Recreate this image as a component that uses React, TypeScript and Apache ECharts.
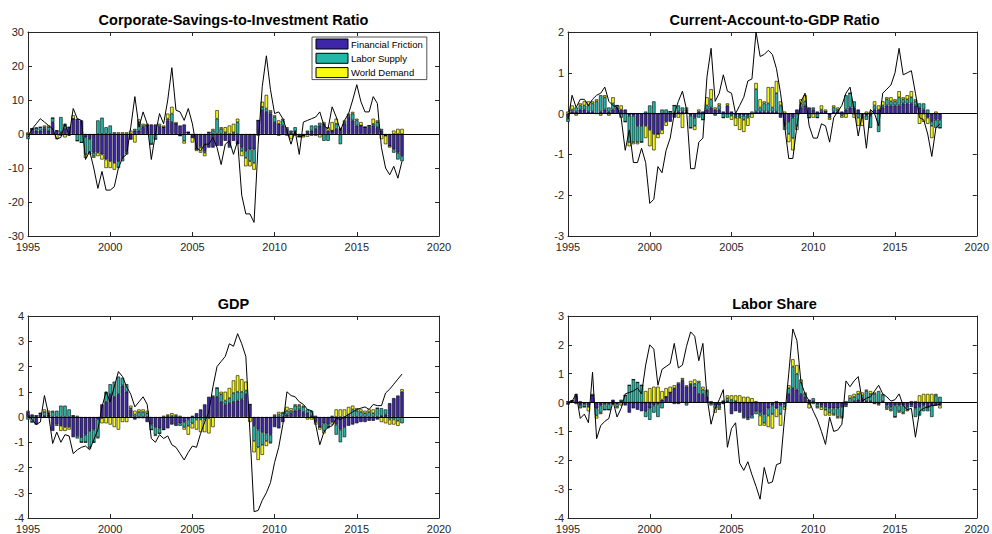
import React, { useEffect, useRef } from 'react';
import * as echarts from 'echarts';

// Quarterly grid 1995Q1 .. 2020Q1 (axis); data cover 1995Q1 .. 2017Q4
const axisQuarters: number[] = Array.from({ length: 101 }, (_, i) => 1995 + i * 0.25);

const seriesNames = ['Financial Friction', 'Labor Supply', 'World Demand'];
const colors = ['#3E26A8', '#22B8A7', '#F9FB0E'];
const yearTickEvery = 20; // every 5 years (20 quarters)

// ---------- Corporate-Savings-to-Investment Ratio ----------
const csLine = [-1, 1.5, 3, 4.5, 3.5, 2.5, 1.5, -1.5, -1, 3,
  -0.5, 7.5, 4.5, 4, -7.5, -5, -10, -16, -11, -16.5,
  -16.5, -15.5, -10, -7, -6, 2, 11, 2, 6.5, 3,
  -7.5, 0, 6, 3, 10, 19.5, 7, 6.5, 4, 7.5,
  3, -4, -5, -3, -3, -1, -4, -9, -3, -2,
  -6, -2, -18, -23.5, -23.5, -26, -3, 14, 23, 13,
  6, 6.5, 4.5, 1, -3, 1, -6, 3.5, 4, 4.5,
  5, 6.5, 2.5, 1.5, 8, 5, 1, 4, 6, 10,
  14.5, 9.5, 6.5, 6.5, 11, 9, -4, -10, -12, -9.5,
  -13, -8];
const csFF = [0, 1.5, 1, 1, 1.5, 1, 3.5, 1, 0.5, 1.5,
  2, 4.5, 4.5, 4, -1, -1.5, -5.5, -5.5, -6, -7.5,
  -8, -8.5, -8, -7, -5, -1.5, 1, 1, 2, 2.5,
  2.8, 2.8, 2, 2, 4, 3.5, 3, 2.5, 2.8, 0.5,
  -1, -4.5, -3.5, -5, -4, -4, -3.5, -3.5, -2, -3.5,
  -2, -3, -4, -5, -4.5, -4.5, 4, 7, 6.5, 6,
  3.5, 3, 2.5, 1.5, 0.5, 0.5, -0.8, -0.5, 0.5, 1,
  1.5, 2.5, 3, 1, 1, 1.5, 1.5, 3, 5, 4,
  2.5, 2.5, 2, 2, 2.5, 2, 1, -0.5, -3.5, -4.5,
  -5.5, -6.5];
const csLS = [-1.5, 0, 0.8, 1, 0.5, 1, 1.2, 0, 4.5, 1.5,
  0, 0, -2, -2.5, -5, -4, -1, 4, 4.8, 2,
  2.5, 0.5, -2, -1, -1, 0, 0.5, 2.5, 0.5, 0,
  -3, -1.5, 0.5, 0, 0.5, 2.5, 0, -0.5, -2, 0,
  0, 0, -0.5, -0.5, 0.5, 1, 4.5, 1.5, 0.5, -0.5,
  0.5, 3.5, -1, -2, -3.5, -4, 0, 1, 1, 0.5,
  1.5, -0.5, 1.5, 0.5, 0.5, 1.5, 0, 0, 0.5, 1.5,
  1, 0.8, -2, -2, 0, 1.5, -3, 0.5, 0.5, 2,
  1.5, 0, 0, 0.5, 0.5, 1.5, 0.5, 0, 0, -1,
  -2, -1.5];
const csWD = [0.5, 0, 0, 0, 0.5, 0.5, 0, -1.5, -0.5, -1,
  -0.5, 1, 0, 0, -1, -0.5, -0.5, -1, -1.5, -2.5,
  -2, -2, 0.5, 0.5, 0.5, 1, -2.5, 0.8, 0.5, 0.5,
  0, 0, 0.5, 0.5, 1.5, 2, 0.5, 0, -0.8, 0,
  -1.5, -0.5, -1.5, -1, 0, 0.5, 2.5, 0.5, 1.5, 2.5,
  2.5, 1, -1.5, -2.5, -1.5, -2, -0.5, 1.5, 4, 0.5,
  0.5, 1, 0.5, -0.5, -1.5, -0.5, 0, -0.5, -0.8, -0.5,
  -0.5, -1, 0.5, 1, 2.5, 1.5, 0.3, 0.5, 0.5, 0.5,
  0.5, 1, 0, 0, 1.5, 0.5, -1.5, -2.5, -0.5, 1,
  1.5, 1.5];

// ---------- Current-Account-to-GDP Ratio ----------
const caLine = [-0.15, 0.45, 0.15, 0.35, 0.35, 0.2, 0.35, 0.45, 0.5, 0.65,
  0.3, 0.2, 0.15, -0.1, -0.9, -0.4, -1.2, -1.2, -0.85, -1.2,
  -2.2, -2.1, -1.3, -1.45, -0.9, -0.6, 0.0, 0.3, 0.55, 0.1,
  -1.35, -1.35, -0.7, -0.6, 0.9, 1.6, 0.3, 0.5, 0.95, 0.55,
  0.5, 0.0, 0.2, 0.4, 0.8, 0.85, 2.0, 1.4, 1.45, 1.55,
  1.45, 1.1, 0.5, -0.3, -1.1, -1.1, -0.3, 0.3, 0.5, -0.3,
  -0.6, -0.6, -0.25, -0.3, -0.7, -0.1, 0.05, 0.2, 0.5, 0.65,
  0.1, -0.55, 0, -0.85, 0.1, 0, -0.3, 0.5, 0.6, 0.7,
  1.0, 1.6, 0.95, 1.0, 1.05, 0.5, -0.1, -0.15, -0.5, -1.05,
  -0.35, -0.25];
const caFF = [-0.1, 0.05, 0.05, 0.1, 0.1, 0.05, 0.05, 0, 0.05, 0.1,
  0.05, 0.1, 0.15, 0.1, 0.1, -0.05, -0.05, -0.3, -0.3, -0.3,
  -0.4, -0.5, -0.5, -0.4, -0.2, -0.2, -0.1, 0.05, 0.05, 0.05,
  -0.05, -0.1, 0.05, 0.05, 0.1, 0.15, 0.1, 0.1, 0.05, 0.2,
  0.05, -0.05, -0.05, -0.05, -0.05, 0, 0.05, 0.05, 0.05, 0.05,
  0.05, 0.05, -0.1, -0.3, -0.2, -0.1, 0.1, 0.15, 0.2, 0.15,
  0.1, 0.05, 0.05, 0.05, -0.05, 0.05, 0.05, 0.05, 0.1, 0.15,
  0.15, 0.1, 0, -0.05, -0.05, 0.1, 0.1, 0.15, 0.2, 0.2,
  0.2, 0.2, 0.25, 0.25, 0.25, 0.2, 0.15, 0.1, -0.1, -0.2,
  -0.15, -0.15];
const caLS = [-0.1, 0.05, 0.1, 0.1, 0.1, 0.15, 0.2, 0.3, 0.4, 0.3,
  0.1, 0.15, 0.05, -0.1, -0.2, -0.65, -0.65, -0.4, -0.4, 0.05,
  0.2, 0.3, 0, 0.1, 0.1, 0.05, 0.2, 0.15, 0.1, 0.05,
  -0.3, -0.2, -0.1, -0.15, 0.1, 0.2, -0.05, 0.1, -0.1, -0.1,
  -0.05, -0.05, -0.05, -0.1, -0.05, 0.05, 0.55, 0.1, 0.2, 0.2,
  0.1, 0.45, 0.2, -0.1, -0.3, -0.5, -0.3, 0.1, 0.1, -0.1,
  0.05, -0.1, 0.05, 0, -0.05, 0.1, 0.05, -0.05, 0.35, 0.35,
  0.15, -0.1, -0.1, -0.1, -0.3, 0.1, -0.45, 0.05, 0.15, 0.1,
  0.1, 0.2, 0.1, 0.1, 0.15, 0.1, 0.1, 0.15, 0.1, -0.1,
  -0.2, -0.2];
const caWD = [0.05, 0.1, -0.05, 0.05, 0.1, 0.1, 0.05, 0.05, -0.05, 0.05,
  -0.05, 0.15, 0, 0.1, 0, -0.1, -0.05, -0.05, 0, -0.3,
  -0.4, -0.4, -0.1, -0.1, -0.1, 0, 0, -0.1, -0.35, 0.05,
  0, -0.1, 0.05, 0, 0.2, 0.25, 0.05, 0.05, 0, 0.05,
  -0.1, -0.2, -0.3, -0.3, -0.2, -0.1, 0.15, 0.2, 0.05, 0.4,
  0.5, 0.3, 0.1, 0.05, -0.2, -0.3, -0.1, 0.1, 0.15, 0,
  -0.1, 0, 0.1, 0.05, -0.05, 0.05, 0.05, -0.05, -0.1, 0,
  -0.1, -0.2, -0.2, 0.05, 0.05, 0.1, 0.1, 0.1, 0.05, 0.1,
  0.05, 0.15, 0.05, 0.1, 0.15, 0.05, -0.25, -0.2, -0.15, -0.3,
  0.05, 0];

// ---------- GDP ----------
const gdpLine = [0.1, -0.1, -0.3, -0.2, 0.85, 0.1, -1.05, -0.6, -1.0, -0.7,
  -0.75, -1.45, -1.3, -1.2, -1.15, -1.3, -0.9, -0.5, 0.4, 1.0,
  0.6, 1.2, 1.8, 1.6, 1.2, 0.9, 0.4, 0.6, 0.8, 0.5,
  -0.85, -1.0, -0.7, -0.85, -0.75, -1.1, -1.2, -1.45, -1.7, -1.4,
  -1.15, -1.2, -0.65, -0.2, 0.2, 1.2, 2.0, 2.2, 2.4, 2.9,
  2.8, 3.3, 2.9, 2.4, -0.6, -3.75, -3.7, -3.3, -3.0, -2.6,
  -1.8, -1.2, -0.3, 1.0, 0.85, 0.8, 0.6, 0.5, 0.3, 0.25,
  -0.3, -1.1, -0.6, -0.4, -0.35, -0.05, -0.1, 0.0, 0.1, 0.2,
  0.3, 0.35, 0.4, 0.3, 0.5, 0.45, 0.45, 0.95, 1.1, 1.3,
  1.5, 1.7];
const gdpFF = [0.2, 0.1, -0.3, 0.1, 0.05, 0.1, -0.55, -0.3, -0.35, -0.4,
  -0.4, -0.8, -0.75, -0.8, -0.7, -0.55, -0.5, -0.1, 0.5, 0.6,
  0.9, 0.8, 0.9, 1.25, 1.0, 0.3, -0.1, -0.05, -0.05, -0.2,
  -0.3, -0.4, -0.45, -0.5, -0.45, -0.3, -0.35, -0.25, -0.2, -0.1,
  0.05, 0.15, 0.3, 0.5, 0.8, 0.8, 0.8, 0.6, 0.5, 0.55,
  0.6, 0.65, 0.7, 0.9, 0.5, -0.35, -0.5, -0.6, -0.65, -0.7,
  -0.4, -0.45, -0.2, 0.1, 0.15, 0.25, 0.3, 0.2, 0.15, 0.05,
  -0.2, -0.4, -0.25, -0.3, -0.2, -0.3, -0.5, -0.4, -0.35, -0.3,
  -0.25, -0.2, -0.2, -0.15, -0.15, -0.1, 0.05, 0.1, 0.55, 0.75,
  0.85, 1.0];
const gdpLS = [-0.1, -0.2, 0.05, 0.05, 0.15, 0.05, 0.2, 0.25, 0.45, 0.45,
  0.3, 0.05, -0.1, -0.2, -0.3, -0.65, -0.5, -0.7, -0.05, 0.4,
  0.4, 0.6, 0.7, 0.3, 0.3, 0.05, 0.1, 0.2, 0.2, 0.15,
  -0.2, -0.3, -0.2, 0, 0.05, 0.05, 0.05, -0.1, -0.2, -0.25,
  -0.25, -0.1, -0.1, -0.1, -0.05, 0.05, 0.35, 0.3, 0.15, 0.2,
  0.35, 0.35, 0.3, 0.15, 0, -0.6, -0.7, -0.5, -0.3, -0.3,
  0.05, 0.1, 0.15, 0.15, 0.1, 0.2, 0.15, 0.2, 0.15, 0.2,
  0.05, 0, -0.3, -0.1, 0.05, -0.4, -0.5, -0.4, 0.1, 0.3,
  0.25, 0.2, 0.15, 0.2, 0.15, 0.35, 0.3, 0.2, -0.1, -0.1,
  -0.15, -0.25];
const gdpWD = [0.05, 0, 0, 0, 0.1, 0.1, 0.05, -0.05, -0.2, -0.15,
  -0.1, 0, 0.05, 0, 0, -0.05, 0, -0.05, -0.2, -0.25,
  -0.3, -0.4, -0.5, -0.2, -0.2, 0.1, 0.15, 0.1, 0.1, 0.1,
  0, -0.05, 0, 0.05, 0.05, 0.1, 0.05, 0.05, -0.1, -0.35,
  -0.2, -0.4, -0.5, -0.5, -0.6, -0.4, 0, 0.1, 0.35, 0.4,
  0.5, 0.65, 0.5, 0.35, -0.2, -0.45, -0.5, -0.4, -0.2, -0.05,
  0.05, 0.1, 0.05, 0.15, 0.1, 0.05, 0.05, 0.05, -0.1, -0.1,
  -0.1, -0.1, -0.1, -0.05, -0.1, 0.3, 0.3, 0.3, 0.3, 0.15,
  0.1, 0.1, 0.1, 0.1, 0.15, 0, -0.2, -0.25, -0.2, -0.2,
  -0.2, 0.1];

// ---------- Labor Share ----------
const lsLine = [0, 0.05, 0.3, -0.55, -0.4, -0.7, 1.05, -1.25, -0.8, -0.65,
  -0.55, 0.05, -0.5, -0.2, 0.3, 0.35, 0.4, 0.5, 0.3, 1.3,
  2.0, 1.85, 0.6, 1.15, 1.25, 1.35, 2.05, 1.2, 1.3, 1.95,
  2.45, 2.3, 1.45, 2.05, 0.2, -0.75, -0.2, 0.1, 0.45, -1.55,
  -0.9, -0.7, -2.1, -2.35, -2.05, -2.5, -2.9, -3.35, -2.25, -2.8,
  -2.75, -2.15, -2.1, -0.5, 1.0, 2.55, 2.15, 0.7, 0.3, 0.05,
  -0.3, -0.6, -1.0, -1.45, -0.5, -1.0, -0.95, -0.75, 0.75, 0.55,
  0.75, 0.9, 0.05, 0.15, 0.2, 0.4, 0.6, 0.3, 0.2, 0.05,
  0.1, 0.3, -0.1, -0.25, -0.2, -1.2, -0.3, -0.2, -0.15, -0.1,
  -0.1, -0.05];
const lsFF = [0.05, 0.05, 0.25, -0.1, -0.05, -0.1, 0.25, -0.2, -0.1, -0.05,
  -0.05, 0.1, -0.05, 0.05, -0.1, -0.35, -0.2, -0.25, -0.3, -0.3,
  -0.2, -0.1, -0.05, 0.1, 0.2, 0.35, 0.5, 0.65, 0.75, 0.55,
  0.6, 0.55, 0.3, 0.3, 0.2, -0.05, -0.1, -0.1, -0.05, 0.05,
  -0.4, -0.3, -0.3, -0.5, -0.55, -0.45, -0.3, -0.35, -0.4, -0.2,
  -0.1, -0.2, -0.1, -0.05, 0.3, 0.5, 0.45, 0.3, 0.2, 0.1,
  0.05, -0.05, -0.1, -0.15, -0.2, -0.2, -0.2, -0.15, -0.1, 0,
  0.05, 0.1, 0.15, 0.05, 0.05, -0.05, -0.05, 0.05, -0.1, -0.15,
  -0.1, -0.1, -0.1, -0.15, -0.1, -0.2, -0.15, -0.1, -0.2, -0.1,
  -0.1, -0.1];
const lsLS = [-0.05, 0.02, -0.05, -0.1, -0.1, -0.05, 0, -0.25, -0.25, -0.2,
  -0.2, -0.05, -0.1, 0.05, 0.25, 0.6, 0.8, 0.7, 0.6, -0.2,
  -0.4, -0.25, -0.45, -0.2, 0, 0, -0.05, -0.05, 0.05, -0.1,
  0.05, 0.1, 0.4, 0.15, 0.2, 0.05, -0.1, -0.1, 0.05, 0.1,
  0.1, 0.05, -0.05, -0.05, -0.05, -0.1, -0.1, -0.1, -0.3, -0.25,
  -0.3, 0.05, -0.3, -0.1, 0.2, 0.75, 0.55, 0.4, 0.1, -0.05,
  0.1, -0.1, -0.05, -0.1, -0.15, -0.2, -0.3, -0.35, -0.05, 0.15,
  0.15, 0.2, 0.1, 0.35, 0.25, 0.3, 0.4, 0.2, -0.1, -0.1,
  -0.4, -0.2, -0.25, -0.1, -0.05, -0.3, -0.3, -0.2, -0.1, -0.4,
  0.25, 0.2];
const lsWD = [0, 0, 0.05, 0.05, 0, -0.15, 0.05, -0.1, -0.05, 0,
  0, 0, -0.05, -0.1, 0, 0, 0, 0, 0, 0.4,
  0.5, 0.55, 0.55, 0.3, 0.3, 0.2, 0.1, 0.05, 0.05, 0.05,
  0.1, 0.15, 0.05, 0.1, 0.05, -0.05, -0.15, -0.05, 0, 0.1,
  0.15, 0.2, 0.25, 0.2, 0.2, 0.15, 0.05, -0.35, -0.1, -0.4,
  -0.5, -0.3, -0.4, -0.1, 0.1, 0.25, 0.3, 0.1, 0.05, -0.15,
  -0.05, -0.05, -0.1, -0.2, -0.1, -0.05, -0.05, -0.05, 0.05, 0.1,
  0.1, 0.1, 0.1, 0.05, 0.1, 0.05, -0.05, 0.05, -0.05, -0.05,
  0, -0.05, -0.05, -0.05, 0.05, 0.05, 0.25, 0.3, 0.3, 0.3,
  0.05, -0.1];

const panels = [
  { title: 'Corporate-Savings-to-Investment Ratio', min: -30, max: 30, interval: 10, line: csLine, comps: [csFF, csLS, csWD],
    grid: { left: 28, top: 32, width: 411, height: 204 } },
  { title: 'Current-Account-to-GDP Ratio', min: -3, max: 2, interval: 1, line: caLine, comps: [caFF, caLS, caWD],
    grid: { left: 568, top: 32, width: 413, height: 204 } },
  { title: 'GDP', min: -4, max: 4, interval: 1, line: gdpLine, comps: [gdpFF, gdpLS, gdpWD],
    grid: { left: 28, top: 316, width: 411, height: 204 } },
  { title: 'Labor Share', min: -4, max: 3, interval: 1, line: lsLine, comps: [lsFF, lsLS, lsWD],
    grid: { left: 568, top: 316, width: 413, height: 204 } },
];

const FONT = "'Liberation Sans', Arial, Helvetica, sans-serif";
const AXIS_COLOR = '#262626';

export default function App() {
  const ref = useRef<HTMLDivElement>(null);
  useEffect(() => {
    if (!ref.current) return;
    const chart = echarts.init(ref.current, undefined, { renderer: 'svg' });
    const axisLine = { show: true, onZero: false, lineStyle: { color: AXIS_COLOR, width: 1 } };
    const yTick = { show: true, inside: true, length: 4, lineStyle: { color: AXIS_COLOR, width: 1 } };
    const xTick = { ...yTick, interval: (i: number) => i % yearTickEvery === 0 };
    const labelStyle = { fontSize: 11, color: AXIS_COLOR, fontFamily: FONT };
    const cats = axisQuarters.map((q) => String(q));

    const xAxis: any[] = [];
    const yAxis: any[] = [];
    const series: any[] = [];
    const title: any[] = [];
    panels.forEach((p, k) => {
      xAxis.push({ type: 'category', gridIndex: k, position: 'bottom', data: cats, boundaryGap: false,
        axisLine, axisTick: xTick,
        axisLabel: { ...labelStyle, margin: 5, interval: (i: number) => i % yearTickEvery === 0 },
        splitLine: { show: false } });
      xAxis.push({ type: 'category', gridIndex: k, position: 'top', data: cats, boundaryGap: false,
        axisLine, axisTick: xTick, axisLabel: { show: false }, splitLine: { show: false } });
      yAxis.push({ type: 'value', gridIndex: k, position: 'left', min: p.min, max: p.max, interval: p.interval,
        axisLine, axisTick: yTick,
        axisLabel: { ...labelStyle, margin: 4, formatter: (v: number) => String(v) }, splitLine: { show: false } });
      yAxis.push({ type: 'value', gridIndex: k, position: 'right', min: p.min, max: p.max, interval: p.interval,
        axisLine, axisTick: yTick, axisLabel: { show: false }, splitLine: { show: false } });
      title.push({ text: p.title, left: p.grid.left + p.grid.width / 2, textAlign: 'center', top: p.grid.top - 20,
        textStyle: { fontSize: 14.5, fontWeight: 'bold', color: '#000', fontFamily: FONT }, padding: 0 });
      p.comps.forEach((arr, j) => {
        series.push({
          type: 'bar', name: seriesNames[j], xAxisIndex: 2 * k, yAxisIndex: 2 * k, stack: 'st' + k,
          stackStrategy: 'samesign', barWidth: 3.4, data: arr.slice(),
          itemStyle: { color: colors[j], borderColor: '#000', borderWidth: 0.6 },
          markLine: j === 0 ? { silent: true, symbol: ['none', 'none'], label: { show: false },
            lineStyle: { color: '#000', width: 1, type: 'solid' }, data: [{ yAxis: 0 }] } : undefined,
        });
      });
      series.push({
        type: 'line', name: 'Data', xAxisIndex: 2 * k, yAxisIndex: 2 * k, z: 5,
        data: p.line.slice(), showSymbol: false, symbol: 'none',
        lineStyle: { color: '#000', width: 1 },
      });
    });

    chart.setOption({
      animation: false,
      backgroundColor: '#fff',
      title,
      grid: panels.map((p) => ({ ...p.grid })),
      legend: {
        data: seriesNames, orient: 'vertical', left: 312, top: 37, itemWidth: 32, itemHeight: 10, itemGap: 3.3,
        padding: [1.5, 4, 1.5, 3.5], borderColor: AXIS_COLOR, borderWidth: 0.8, backgroundColor: '#fff',
        icon: 'rect', itemStyle: { borderColor: '#000', borderWidth: 1 },
        textStyle: { fontSize: 9.5, color: '#000', fontFamily: FONT, padding: [0, 0, 0, -2] },
      },
      xAxis, yAxis, series,
    });
    return () => chart.dispose();
  }, []);
  return <div ref={ref} style={{ position: 'fixed', left: 0, top: 0, width: 992, height: 534 }} />;
}
